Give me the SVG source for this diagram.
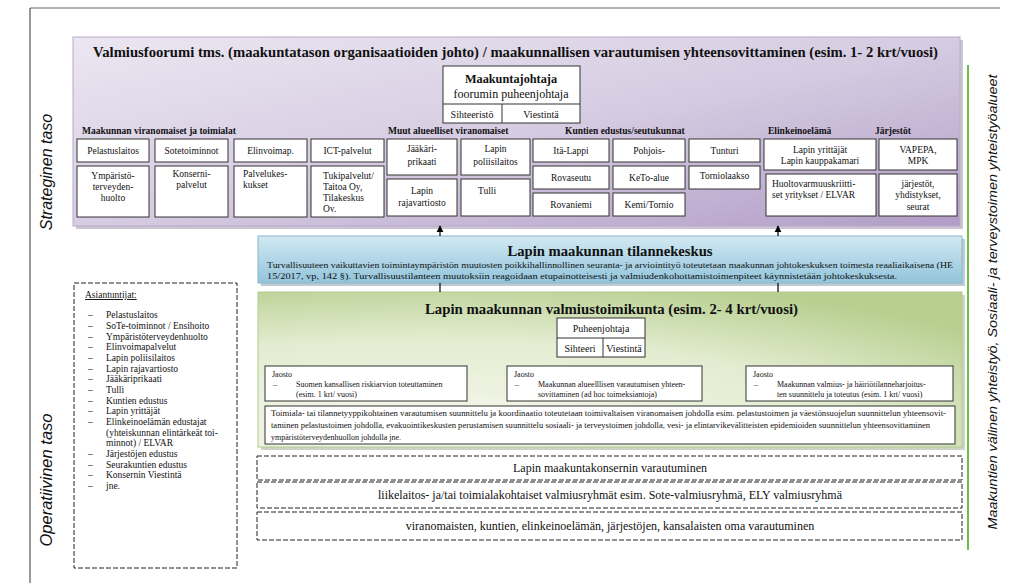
<svg xmlns="http://www.w3.org/2000/svg" width="1024" height="583" viewBox="0 0 1024 583">
<defs>
<linearGradient id="gPurple" x1="0" y1="0" x2="1" y2="1">
<stop offset="0" stop-color="#ebe7f1"/>
<stop offset="0.5" stop-color="#d6cce2"/>
<stop offset="1" stop-color="#b19dc6"/>
</linearGradient>
<linearGradient id="gBlue" x1="0" y1="0" x2="0" y2="1">
<stop offset="0" stop-color="#d2e9f3"/>
<stop offset="1" stop-color="#92c4db"/>
</linearGradient>
<radialGradient id="gGreen" cx="0.25" cy="0.9" r="1">
<stop offset="0" stop-color="#f6f8ee"/>
<stop offset="0.6" stop-color="#e3ecd0"/>
<stop offset="1" stop-color="#b7cf90"/>
</radialGradient>
<marker id="arr" viewBox="0 0 10 10" refX="9" refY="5" markerWidth="6" markerHeight="6" orient="auto">
<path d="M0,0 L10,5 L0,10 z" fill="#000"/>
</marker>
<clipPath id="clipTuki"><rect x="311" y="167" width="73" height="45"/></clipPath>
</defs>
<style>
text{font-family:'Liberation Serif','Times New Roman','DejaVu Serif',serif}
.t{fill:#111}
.b{font-weight:bold}
.bx{fill:#fff;stroke:#333;stroke-width:1}
.sm{font-size:9.5px}
.xs{font-size:8px}
.c{text-anchor:middle}
.dash{fill:#fff;stroke:#222;stroke-width:1;stroke-dasharray:5,2}
text.side{font-family:'Liberation Sans',Arial,sans-serif;font-style:italic;fill:#111}
.conn{stroke:#000;stroke-width:1.2;fill:none}
</style>

<g id="frame">
<line x1="30" y1="8" x2="1000" y2="8" stroke="#666" stroke-width="1"/>
<line x1="30" y1="8" x2="30" y2="583" stroke="#333" stroke-width="1"/>
<text class="side" font-size="16" transform="translate(52,172) rotate(-90)" text-anchor="middle">Strateginen taso</text>
<text class="side" font-size="16.5" transform="translate(52,480) rotate(-90)" text-anchor="middle">Operatiivinen taso</text>
<line x1="968" y1="65" x2="968" y2="550" stroke="#6cc04a" stroke-width="2"/>
<text class="side" font-size="12" transform="translate(997,302) rotate(-90)" text-anchor="middle" textLength="455" lengthAdjust="spacingAndGlyphs">Maakuntien välinen yhteistyö, Sosiaali- ja terveystoimen yhteistyöalueet</text>
</g>

<g id="forum">
<rect x="76" y="40" width="887" height="189" fill="#9a8aa8" opacity="0.5"/>
<rect x="73" y="37" width="887" height="189" fill="url(#gPurple)" stroke="#b9aacb" stroke-width="1"/>
<text class="t b" x="93" y="57" font-size="14" textLength="845" lengthAdjust="spacingAndGlyphs">Valmiusfoorumi  tms. (maakuntatason organisaatioiden johto) / maakunnallisen varautumisen yhteensovittaminen (esim. 1- 2 krt/vuosi)</text>
</g>

<g id="maakuntajohtaja">
<rect class="bx" x="443" y="66" width="137" height="57"/>
<line x1="443" y1="104" x2="580" y2="104" stroke="#333"/>
<line x1="502" y1="104" x2="502" y2="123" stroke="#333"/>
<text class="t b c" x="511" y="83" font-size="12.3">Maakuntajohtaja</text>
<text class="t c" x="511" y="98" font-size="12">foorumin puheenjohtaja</text>
<text class="t c" x="472" y="118" font-size="10">Sihteeristö</text>
<text class="t c" x="541" y="118" font-size="10">Viestintä</text>
</g>

<g id="labels">
<text class="t b sm" x="82" y="134">Maakunnan viranomaiset ja toimialat</text>
<text class="t b sm" x="388" y="134">Muut alueelliset viranomaiset</text>
<text class="t b sm" x="565" y="134">Kuntien edustus/seutukunnat</text>
<text class="t b sm" x="768" y="134">Elinkeinoelämä</text>
<text class="t b sm" x="875" y="134">Järjestöt</text>
</g>

<g id="pelastuslaitos"><rect class="bx" x="77" y="139" width="72" height="23"/><text class="t sm c" x="113" y="154">Pelastuslaitos</text></g>
<g id="sotetoiminnot"><rect class="bx" x="155" y="139" width="73" height="23"/><text class="t sm c" x="191.5" y="154">Sotetoiminnot</text></g>
<g id="elinvoimap"><rect class="bx" x="234" y="139" width="73" height="23"/><text class="t sm c" x="270.5" y="154">Elinvoimap.</text></g>
<g id="ict"><rect class="bx" x="311" y="139" width="73" height="23"/><text class="t sm c" x="347.5" y="154">ICT-palvelut</text></g>
<g id="ymparisto"><rect class="bx" x="77" y="166" width="72" height="51"/><text class="t sm c" x="113" y="179">Ympäristö-</text><text class="t sm c" x="113" y="190">terveyden-</text><text class="t sm c" x="113" y="201">huolto</text></g>
<g id="konserni"><rect class="bx" x="155" y="166" width="73" height="51"/><text class="t sm c" x="191.5" y="177">Konserni-</text><text class="t sm c" x="191.5" y="188">palvelut</text></g>
<g id="palvelukeskukset"><rect class="bx" x="234" y="166" width="73" height="51"/><text class="t sm" x="243" y="177">Palvelukes-</text><text class="t sm" x="243" y="188">kukset</text></g>
<g id="tukipalvelut"><rect class="bx" x="311" y="166" width="73" height="51"/><g clip-path="url(#clipTuki)"><text class="t sm" x="323" y="179">Tukipalvelut/</text><text class="t sm" x="323" y="190">Taitoa Oy,</text><text class="t sm" x="323" y="201">Tilakeskus</text><text class="t sm" x="323" y="212">Oy.</text></g></g>

<g id="jaakariprikaati"><rect class="bx" x="387" y="139" width="70" height="36"/><text class="t sm c" x="422" y="152">Jääkäri-</text><text class="t sm c" x="422" y="165">prikaati</text></g>
<g id="poliisilaitos"><rect class="bx" x="461" y="139" width="69" height="36"/><text class="t sm c" x="495.5" y="152">Lapin</text><text class="t sm c" x="495.5" y="165">poliisilaitos</text></g>
<g id="rajavartiosto"><rect class="bx" x="387" y="179" width="70" height="37"/><text class="t sm c" x="422" y="194">Lapin</text><text class="t sm c" x="422" y="206">rajavartiosto</text></g>
<g id="tulli"><rect class="bx" x="461" y="179" width="69" height="37"/><text class="t sm" x="478" y="194">Tulli</text></g>

<g id="italappi"><rect class="bx" x="533" y="139" width="76" height="23"/><text class="t sm c" x="571" y="154">Itä-Lappi</text></g>
<g id="pohjois"><rect class="bx" x="613" y="139" width="72" height="23"/><text class="t sm c" x="649" y="154">Pohjois-</text></g>
<g id="tunturi"><rect class="bx" x="689" y="139" width="71" height="23"/><text class="t sm c" x="724.5" y="154">Tunturi</text></g>
<g id="rovaseutu"><rect class="bx" x="533" y="166" width="76" height="23"/><text class="t sm c" x="571" y="181">Rovaseutu</text></g>
<g id="keto"><rect class="bx" x="613" y="166" width="72" height="23"/><text class="t sm c" x="649" y="181">KeTo-alue</text></g>
<g id="torniolaakso"><rect class="bx" x="689" y="166" width="71" height="23"/><text class="t sm c" x="724.5" y="179">Torniolaakso</text></g>
<g id="rovaniemi"><rect class="bx" x="533" y="193" width="76" height="23"/><text class="t sm c" x="571" y="208">Rovaniemi</text></g>
<g id="kemitornio"><rect class="bx" x="613" y="193" width="72" height="23"/><text class="t sm c" x="649" y="208">Kemi/Tornio</text></g>

<g id="yrittajat"><rect class="bx" x="764" y="139" width="112" height="31"/><text class="t sm c" x="820" y="153">Lapin yrittäjät</text><text class="t sm c" x="820" y="164">Lapin kauppakamari</text></g>
<g id="huoltovarmuus"><rect class="bx" x="766" y="174" width="110" height="42"/><text class="t sm" x="772" y="187">Huoltovarmuuskriitti-</text><text class="t sm" x="772" y="198">set yritykset / ELVAR</text></g>
<g id="vapepa"><rect class="bx" x="879" y="139" width="78" height="31"/><text class="t sm c" x="918" y="153">VAPEPA,</text><text class="t sm c" x="918" y="164">MPK</text></g>
<g id="jarjestot"><rect class="bx" x="879" y="174" width="78" height="42"/><text class="t sm c" x="918" y="187">järjestöt,</text><text class="t sm c" x="918" y="198">yhdistykset,</text><text class="t sm c" x="918" y="210">seurat</text></g>

<g id="tilannekeskus">
<rect x="261" y="239" width="704" height="47" fill="#7c9aa8" opacity="0.5"/>
<rect x="258" y="236" width="704" height="47" fill="url(#gBlue)" stroke="#8ab6ca" stroke-width="1"/>
<text class="t b c" x="610" y="256" font-size="14.5" textLength="205" lengthAdjust="spacingAndGlyphs">Lapin maakunnan tilannekeskus</text>
<text class="t" x="267" y="268" font-size="8.6" textLength="686" lengthAdjust="spacingAndGlyphs">Turvallisuuteen vaikuttavien toimintaympäristön muutosten poikkihallinnollinen seuranta- ja arviointityö toteutetaan  maakunnan johtokeskuksen toimesta reaaliaikaisena (HE</text>
<text class="t" x="267" y="279" font-size="8.6" textLength="630" lengthAdjust="spacingAndGlyphs">15/2017, vp, 142 §). Turvallisuustilanteen muutoksiin reagoidaan etupainotteisesti ja valmiudenkohottamistoimenpiteet  käynnistetään johtokeskuksesta.</text>
</g>

<g id="valmiustoimikunta">
<rect x="261" y="295" width="704" height="155" fill="#8fa07a" opacity="0.45"/>
<rect x="258" y="292" width="704" height="155" fill="url(#gGreen)" stroke="#b3c98f" stroke-width="1"/>
<text class="t b" x="425" y="314" font-size="14.5" textLength="373" lengthAdjust="spacingAndGlyphs">Lapin maakunnan valmiustoimikunta (esim. 2- 4 krt/vuosi)</text>
</g>

<g id="puheenjohtaja">
<rect class="bx" x="557" y="318" width="88" height="39"/>
<line x1="557" y1="338" x2="645" y2="338" stroke="#333"/>
<line x1="603" y1="338" x2="603" y2="357" stroke="#333"/>
<text class="t c" x="601" y="332" font-size="10">Puheenjohtaja</text>
<text class="t c" x="580" y="352" font-size="10">Sihteeri</text>
<text class="t c" x="624" y="352" font-size="10">Viestintä</text>
</g>

<g id="jaosto1">
<rect class="bx" x="265" y="366" width="202" height="35"/>
<text class="t xs" x="272" y="377">Jaosto</text>
<text class="t xs" x="273" y="387">–</text>
<text class="t xs" x="296" y="387">Suomen kansallisen riskiarvion toteuttaminen</text>
<text class="t xs" x="296" y="397">(esim. 1 krt/ vuosi)</text>
</g>
<g id="jaosto2">
<rect class="bx" x="507" y="366" width="195" height="35"/>
<text class="t xs" x="514" y="377">Jaosto</text>
<text class="t xs" x="515" y="387">–</text>
<text class="t xs" x="538" y="387">Maakunnan alueelllisen varautumisen yhteen-</text>
<text class="t xs" x="538" y="397">sovittaminen (ad hoc toimeksiantoja)</text>
</g>
<g id="jaosto3">
<rect class="bx" x="746" y="366" width="207" height="35"/>
<text class="t xs" x="753" y="377">Jaosto</text>
<text class="t xs" x="754" y="387">–</text>
<text class="t xs" x="777" y="387">Maakunnan valmius- ja häiriötilanneharjoitus-</text>
<text class="t xs" x="777" y="397">ten suunnittelu ja toteutus (esim. 1 krt/ vuosi)</text>
</g>

<g id="koordinaatio">
<rect class="bx" x="265" y="406" width="690" height="38"/>
<text class="t xs" x="271" y="416" textLength="675" lengthAdjust="spacingAndGlyphs">Toimiala- tai tilannetyyppikohtainen varautumisen suunnittelu ja koordinaatio toteutetaan toimivaltaisen viranomaisen johdolla esim. pelastustoimen ja väestönsuojelun suunnittelun yhteensovit-</text>
<text class="t xs" x="271" y="428" textLength="659" lengthAdjust="spacingAndGlyphs">taminen pelastustoimen johdolla, evakuointikeskusten perustamisen suunnittelu sosiaali- ja terveystoimen johdolla, vesi- ja elintarvikevälitteisten epidemioiden suunnittelun yhteensovittaminen</text>
<text class="t xs" x="271" y="440">ympäristöterveydenhuollon johdolla jne.</text>
</g>

<g id="konsernin-varautuminen">
<rect class="dash" x="257" y="456" width="705" height="24"/>
<text class="t c" x="610" y="472" font-size="12">Lapin maakuntakonsernin varautuminen</text>
</g>
<g id="valmiusryhmat">
<rect class="dash" x="257" y="482" width="705" height="26"/>
<text class="t c" x="610" y="499" font-size="12">liikelaitos- ja/tai toimialakohtaiset valmiusryhmät esim. Sote-valmiusryhmä, ELY valmiusryhmä</text>
</g>
<g id="oma-varautuminen">
<rect class="dash" x="257" y="512" width="705" height="28"/>
<text class="t c" x="610" y="530" font-size="12">viranomaisten, kuntien, elinkeinoelämän, järjestöjen, kansalaisten oma varautuminen</text>
</g>

<g id="asiantuntijat">
<rect class="dash" x="74" y="283" width="163" height="285"/>
<text class="t" x="85" y="298" font-size="9.5" text-decoration="underline">Asiantuntijat:</text>
<g class="t" font-size="9.5">
<text x="88" y="318">–</text><text x="106" y="318">Pelastuslaitos</text>
<text x="88" y="329">–</text><text x="106" y="329">SoTe-toiminnot / Ensihoito</text>
<text x="88" y="340">–</text><text x="106" y="340">Ympäristöterveydenhuolto</text>
<text x="88" y="350">–</text><text x="106" y="350">Elinvoimapalvelut</text>
<text x="88" y="361">–</text><text x="106" y="361">Lapin poliisilaitos</text>
<text x="88" y="372">–</text><text x="106" y="372">Lapin rajavartiosto</text>
<text x="88" y="382">–</text><text x="106" y="382">Jääkäriprikaati</text>
<text x="88" y="393">–</text><text x="106" y="393">Tulli</text>
<text x="88" y="404">–</text><text x="106" y="404">Kuntien edustus</text>
<text x="88" y="414">–</text><text x="106" y="414">Lapin  yrittäjät</text>
<text x="88" y="425">–</text><text x="106" y="425">Elinkeinoelämän edustajat</text>
<text x="106" y="436">(yhteiskunnan elintärkeät toi-</text>
<text x="106" y="446">minnot) / ELVAR</text>
<text x="88" y="457">–</text><text x="106" y="457">Järjestöjen edustus</text>
<text x="88" y="468">–</text><text x="106" y="468">Seurakuntien edustus</text>
<text x="88" y="478">–</text><text x="106" y="478">Konsernin Viestintä</text>
<text x="88" y="489">–</text><text x="106" y="489">jne.</text>
</g>
</g>

<g id="connectors">
<line class="conn" x1="440" y1="236" x2="440" y2="226" marker-end="url(#arr)"/>
<line class="conn" x1="778" y1="236" x2="778" y2="226" marker-end="url(#arr)"/>
<line class="conn" x1="440" y1="283" x2="440" y2="292"/>
<line class="conn" x1="778" y1="283" x2="778" y2="292"/>
</g>
</svg>
